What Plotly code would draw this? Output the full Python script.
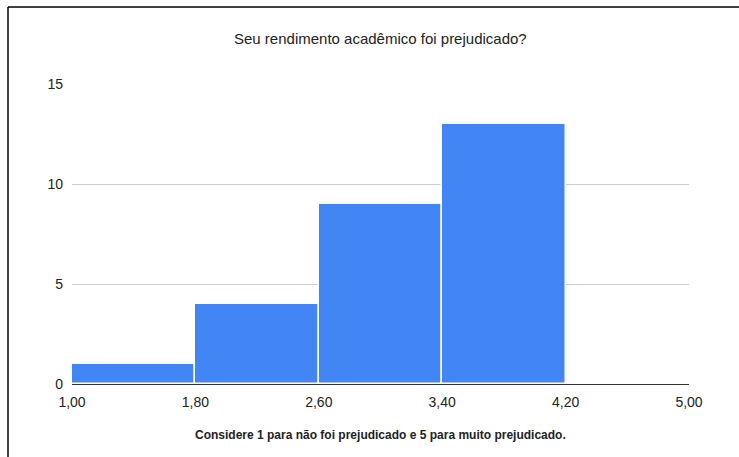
import plotly.graph_objects as go

# Histogram bins (score ranges) and response counts
bin_edges = [1.0, 1.8, 2.6, 3.4, 4.2, 5.0]
counts = [1, 4, 9, 13, 0]
tick_labels = ["1,00", "1,80", "2,60", "3,40", "4,20", "5,00"]
y_ticks = [0, 5, 10, 15]

title_text = "Seu rendimento acadêmico foi prejudicado?"
axis_note = "Considere 1 para não foi prejudicado e 5 para muito prejudicado."

centers = [(a + b) / 2 for a, b in zip(bin_edges[:-1], bin_edges[1:])]
widths = [b - a for a, b in zip(bin_edges[:-1], bin_edges[1:])]

W, H = 739, 457
ML, MR, MT, MB = 72, 50, 84, 73
PW, PH = W - ML - MR, H - MT - MB

fig = go.Figure(
    go.Bar(
        x=centers,
        y=counts,
        width=widths,
        marker=dict(color="#4285F4", line=dict(color="white", width=1.5)),
        hoverinfo="x+y",
    )
)

font_family = "Liberation Sans, Arial, sans-serif"

fig.update_layout(
    width=W,
    height=H,
    margin=dict(l=ML, r=MR, t=MT, b=MB),
    paper_bgcolor="white",
    plot_bgcolor="white",
    showlegend=False,
    bargap=0,
    font=dict(family=font_family, size=14, color="#222222"),
    xaxis=dict(
        range=[bin_edges[0], bin_edges[-1]],
        tickvals=bin_edges,
        ticktext=tick_labels,
        showgrid=False,
        zeroline=False,
        showline=True,
        linecolor="#333333",
        linewidth=1,
        ticks="",
        ticklabelstandoff=5,
        tickfont=dict(size=14, color="#222222"),
    ),
    yaxis=dict(
        range=[0, 15],
        tickvals=y_ticks,
        showgrid=True,
        gridcolor="#cccccc",
        gridwidth=1,
        zeroline=False,
        showline=False,
        ticks="",
        ticklabelstandoff=8,
        tickfont=dict(size=14, color="#222222"),
    ),
    annotations=[
        dict(
            text=title_text,
            xref="paper", yref="paper",
            x=0.5, y=(PH + 46) / PH,
            xanchor="center", yanchor="middle",
            showarrow=False,
            font=dict(size=15, color="#222222", family=font_family),
        ),
        dict(
            text="<b>" + axis_note + "</b>",
            xref="paper", yref="paper",
            x=0.5, y=-51 / PH,
            xanchor="center", yanchor="middle",
            showarrow=False,
            font=dict(size=12, color="#222222", family=font_family),
        ),
    ],
    shapes=[
        # frame on the top and left edges of the page
        dict(type="line", xref="paper", yref="paper",
             x0=(8 - ML) / PW, x1=(W - ML) / PW,
             y0=(H - MB - 7) / PH, y1=(H - MB - 7) / PH,
             line=dict(color="black", width=1.5)),
        dict(type="line", xref="paper", yref="paper",
             x0=(8 - ML) / PW, x1=(8 - ML) / PW,
             y0=(H - MB - 7) / PH, y1=-MB / PH,
             line=dict(color="black", width=1.5)),
    ],
)

fig.write_html("out.html")
